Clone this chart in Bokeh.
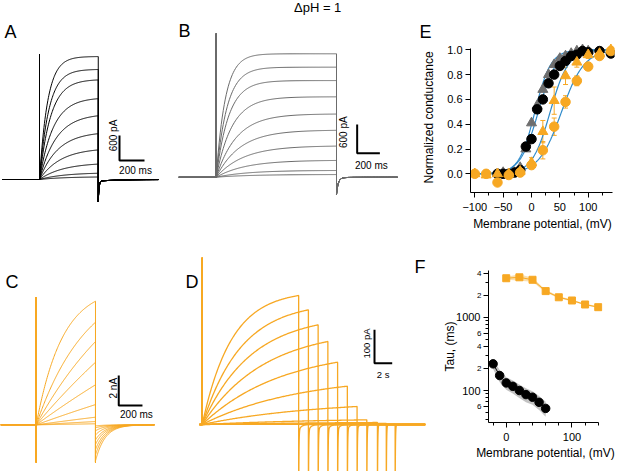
import numpy as np
from bokeh.plotting import figure
from bokeh.models import (Range1d, FixedTicker, Label, Whisker, TeeHead, ColumnDataSource,
                          PrintfTickFormatter, BasicTickFormatter, LogAxis, Title)
from bokeh.layouts import row, column
from bokeh.embed import file_html
from bokeh.resources import INLINE

FONT = "Liberation Sans"
ORANGE = "#F7A823"
GRAY = "#6B6B6B"
BLUE = "#2F8BCB"

# ---------------- data ----------------
# Panel A : black current family (pA, ms)
A_end_pA = [2950, 2640, 2390, 1940, 1530, 1100, 710, 370, 150, 60]
A_tau_ms = [65, 75, 90, 110, 135, 150, 170, 190, 200, 200]
A_pulse_ms = 470
A_cap_pA = 3000
A_tail_pA = -500

# Panel B : grey current family, ΔpH = 1 (pA, ms)
B_end_pA = [2580, 2300, 2020, 1680, 1320, 980, 650, 350, 140, 55]
B_tau_ms = [80, 95, 110, 140, 180, 210, 240, 260, 280, 300]
B_pulse_ms = 1060
B_cap_pA = 3000
B_tail_pA = -340

# Panel C : orange current family (nA, ms)
C_end_nA = [8.24, 6.84, 5.55, 4.17, 2.67, 1.35, 0.51, 0.22, 0.07]
C_tau_ms = [220, 430, 870, 2000, 3000, 4000, 4000, 4000, 4000]
C_tail_nA = [-2.4, -2.0, -1.65, -1.3, -1.0, -0.67, -0.4, -0.2, -0.07]
C_pulse_ms = 500
C_cap_up_nA = 8.5
C_cap_dn_nA = -2.5

# Panel D : long pulses (pA, s)
D_end_pA = [387, 344, 299, 249, 187, 115, 54, 14, 6, 3, 1]
D_pulse_s = [10.9, 12.0, 13.1, 14.2, 15.3, 16.4, 17.5, 18.6, 19.8, 20.8, 21.8]
D_tau_s = [3.3, 4.4, 5.5, 7, 9, 11, 13, 15, 15, 15, 15]
D_tail_slow_pA = [-18, -18, -16, -15, -14, -12, -8, -4, -2, -1, -1]
D_cap_pA = 500
D_tail_spike_pA = -250

# Panel E : normalized conductance vs membrane potential (mV)
E_black_V = [-60, -50, -40, -30, -20, -10, 0, 10, 20, 30, 40, 50, 60, 70, 80, 90, 100, 120, 140]
E_black_G = [0.0, 0.0, 0.0, 0.01, 0.03, 0.22, 0.28, 0.52, 0.60, 0.73, 0.80, 0.87, 0.91, 0.95, 0.96, 0.99, 0.98, 0.99, 0.97]
E_black_err = [0.01, 0.01, 0.01, 0.01, 0.02, 0.03, 0.03, 0.03, 0.02, 0.02, 0.02, 0.02, 0.01, 0.01, 0.01, 0.01, 0.01, 0.01, 0.01]
E_gray_V = [-60, -50, -40, -30, -20, -10, 0, 10, 20, 30, 40, 50, 60, 70, 80, 90, 100]
E_gray_G = [0.0, 0.01, 0.0, 0.01, 0.05, 0.2, 0.41, 0.55, 0.68, 0.80, 0.88, 0.93, 0.95, 0.97, 0.99, 1.0, 0.99]
E_otri_V = [-100, -80, -60, -40, -20, 0, 20, 40, 60, 80, 100, 120, 140]
E_otri_G = [0.0, -0.01, 0.0, 0.0, 0.02, 0.09, 0.34, 0.59, 0.79, 0.90, 0.96, 0.97, 1.0]
E_otri_err = [0.01, 0.02, 0.01, 0.01, 0.02, 0.04, 0.09, 0.11, 0.07, 0.04, 0.03, 0.02, 0.02]
E_ocirc_V = [-100, -80, -60, -40, -20, 0, 20, 40, 60, 80, 100, 120, 140]
E_ocirc_G = [0.0, 0.0, -0.07, -0.01, 0.01, 0.07, 0.19, 0.38, 0.58, 0.75, 0.865, 0.95, 0.99]
E_ocirc_err = [0.01, 0.01, 0.02, 0.01, 0.01, 0.03, 0.07, 0.07, 0.05, 0.04, 0.03, 0.02, 0.02]
# Boltzmann fits (V1/2 mV, slope mV)
E_fit_vhalf = [12, 6, 33, 53]
E_fit_slope = [16, 14, 16, 20]
E_x_ticks = [-100, -50, 0, 50, 100]
E_y_ticks = [0.0, 0.2, 0.4, 0.6, 0.8, 1.0]

# Panel F : time constants (ms) vs membrane potential (mV)
F_orange_V = [0, 20, 40, 60, 80, 100, 120, 140]
F_orange_tau = [3400, 3500, 3240, 2270, 1870, 1690, 1490, 1370]
F_orange_sem = [150, 350, 200, 100, 60, 50, 40, 40]
F_black_V = [-20, -10, 0, 10, 20, 30, 40, 50, 60]
F_black_tau = [231, 160, 127, 114, 100, 88, 81, 69, 57]
F_black_sem = [35, 30, 25, 23, 21, 19, 17, 15, 13]
F_y_big = [100, 1000]
F_y_small = [60, 200, 400, 600, 2000, 4000]
F_y_small_labels = ["6", "2", "4", "6", "2", "4"]
F_y_minor = [40, 50, 70, 80, 90, 300, 500, 700, 800, 900, 3000]
F_x_ticks = [0, 100]


# ---------------- helpers ----------------
def trace_fig(w, h, xr, yr):
    p = figure(width=w, height=h, x_range=Range1d(*xr), y_range=Range1d(*yr),
               output_backend="svg", toolbar_location=None, min_border=0,
               x_axis_location=None, y_axis_location=None, title=None)
    p.grid.grid_line_color = None
    p.outline_line_color = None
    p.frame_align = False
    return p


def label(p, x, y, text, size="10px", align="center", baseline="middle", angle=0, color="black"):
    p.add_layout(Label(x=x, y=y, text=text, text_font=FONT, text_font_size=size,
                       text_align=align, text_baseline=baseline, angle=angle,
                       angle_units="deg", text_color=color))


def step_trace(t_pre, T, I_end, tau, cap_up, cap_dn, tail_t, tail_I, t_post, n=120):
    t = np.linspace(0, T, n)
    rise = I_end * (1 - np.exp(-t / tau)) / (1 - np.exp(-T / tau))
    xs = [t_pre, 0, 0, 0, 0] + list(t) + list(T + np.asarray(tail_t)) + [t_post]
    ys = [0, 0, cap_up, cap_dn, 0] + list(rise) + list(tail_I) + [0]
    return xs, ys


def scalebar(p, x0, y0, dx, dy, w=2):
    p.line([x0, x0, x0 + dx], [y0 + dy, y0, y0], line_color="black", line_width=w)


def style_axes(p):
    p.grid.grid_line_color = None
    p.outline_line_color = None
    p.frame_align = False
    for ax in p.xaxis + p.yaxis:
        ax.axis_line_color = "black"
        ax.major_tick_line_color = "black"
        ax.minor_tick_line_color = "black"
        ax.major_tick_in = 0
        ax.minor_tick_in = 0
        ax.major_tick_out = 5
        ax.minor_tick_out = 3
        ax.major_label_standoff = 3
        ax.major_label_text_font = FONT
        ax.major_label_text_font_size = "11px"
        ax.major_label_text_color = "black"
        ax.axis_label_text_font = FONT
        ax.axis_label_text_font_size = "12px"
        ax.axis_label_text_font_style = "normal"
        ax.axis_label_text_color = "black"


# ---------------- Panel A ----------------
pA = trace_fig(170, 253, (-312, 1048), (-1776, 4296))
tt = 480 * np.linspace(0, 1, 90) ** 3
xsA, ysA = [], []
for Ie, tau in zip(A_end_pA, A_tau_ms):
    tail = A_tail_pA * np.exp(-tt / 6) - 40 * np.exp(-tt / 150)
    x, y = step_trace(-296, A_pulse_ms, Ie, tau, A_cap_pA, 0, tt, tail, 952)
    xsA.append(x); ysA.append(y)
pA.multi_line(xsA, ysA, line_color="black", line_width=1.0)
scalebar(pA, 640, 456, 200, 600)
label(pA, 592, 1056, "600 pA", angle=90)
label(pA, 768, 216, "200 ms")
label(pA, -280, 3552, "A", size="18px", align="left")

# ---------------- Panel B ----------------
pB = trace_fig(245, 253, (-402.6, 1756), (-1595, 3694))
tt = 500 * np.linspace(0, 1, 90) ** 3
xsB, ysB = [], []
for Ie, tau in zip(B_end_pA, B_tau_ms):
    tail = B_tail_pA * np.exp(-tt / 15) - 15 * np.exp(-tt / 100)
    x, y = step_trace(-330, B_pulse_ms, Ie, tau, B_cap_pA, 0, tt, tail, 1598)
    xsB.append(x); ysB.append(y)
pB.multi_line(xsB, ysB, line_color=GRAY, line_width=1.0)
scalebar(pB, 1242, 502, 200, 600)
label(pB, 1124, 941, "600 pA", angle=90)
label(pB, 1367, 245, "200 ms")
label(pB, -332, 3046, "B", size="18px", align="left")
label(pB, 894, 3538, "ΔpH = 1", size="13px")

# ---------------- Panel E ----------------
pE = figure(width=202, height=253, x_range=Range1d(-107.6, 146.4), y_range=Range1d(-0.1508, 1.0589),
            output_backend="svg", toolbar_location=None, title=None,
            min_border_left=55, min_border_right=3, min_border_top=42, min_border_bottom=61)
vv = np.linspace(-100, 140, 200)
for vh, k in zip(E_fit_vhalf, E_fit_slope):
    pE.line(vv, 1 / (1 + np.exp((vh - vv) / k)), line_color=BLUE, line_width=1.2)
for V, G, err, col in [(E_black_V, E_black_G, E_black_err, "black"),
                       (E_otri_V, E_otri_G, E_otri_err, ORANGE),
                       (E_ocirc_V, E_ocirc_G, E_ocirc_err, ORANGE)]:
    src = ColumnDataSource(dict(x=V, lo=[g - e for g, e in zip(G, err)], hi=[g + e for g, e in zip(G, err)]))
    pE.add_layout(Whisker(base="x", lower="lo", upper="hi", source=src, line_color=col, line_width=1,
                          upper_head=TeeHead(size=5, line_color=col, line_width=1),
                          lower_head=TeeHead(size=5, line_color=col, line_width=1)))
pE.scatter(E_gray_V, E_gray_G, marker="triangle", size=10, color="#6E6E6E")
pE.scatter(E_black_V, E_black_G, marker="circle", size=9.5, color="black")
pE.scatter(E_otri_V, E_otri_G, marker="triangle", size=10, color=ORANGE)
pE.scatter(E_ocirc_V, E_ocirc_G, marker="circle", size=9.5, color=ORANGE)
style_axes(pE)
pE.xaxis.ticker = FixedTicker(ticks=E_x_ticks, minor_ticks=[-75, -25, 25, 75, 125])
pE.yaxis.ticker = FixedTicker(ticks=E_y_ticks, minor_ticks=[])
pE.yaxis.formatter = PrintfTickFormatter(format="%.1f")
pE.xaxis.bounds = (-107.6, 142.4)
pE.yaxis.bounds = (-0.1508, 1.01)
pE.xaxis.axis_label = "Membrane potential, (mV)"
pE.yaxis.axis_label = "Normalized conductance"
pE.yaxis.axis_label_standoff = 8
pE.xaxis.major_label_standoff = 5
pE.xaxis.axis_label_standoff = 3
pE.add_layout(Title(text="E", align="left", offset=-51, text_font=FONT, text_font_size="18px",
                    text_font_style="normal", text_color="black", standoff=1), "above")

# ---------------- Panel C ----------------
pC = trace_fig(180, 218, (-301, 1216.7), (-3.11, 11.42))
tt = 480 * np.linspace(0, 1, 90) ** 2
xsC, ysC = [], []
for Ie, tau, At in zip(C_end_nA, C_tau_ms, C_tail_nA):
    tail = At * np.exp(-tt / 80)
    x, y = step_trace(-301, C_pulse_ms, Ie, tau, C_cap_up_nA, C_cap_dn_nA,
                      np.concatenate([[0], tt]), np.concatenate([[C_cap_dn_nA], tail]), 997)
    xsC.append(x); ysC.append(y)
pC.multi_line(xsC, ysC, line_color=ORANGE, line_width=1.0)
scalebar(pC, 696, 1.29, 200, 2)
label(pC, 655, 2.44, "2 nA", angle=90)
label(pC, 845, 0.69, "200 ms")
label(pC, -259, 9.55, "C", size="18px", align="left")

# ---------------- Panel D ----------------
pD = trace_fig(246, 218, (-2.452, 25.345), (-141, 513))
tt = 3.0 * np.linspace(0, 1, 90) ** 3
xsD, ysD = [], []
for Ie, T, tau, As in zip(D_end_pA, D_pulse_s, D_tau_s, D_tail_slow_pA):
    tail = D_tail_spike_pA * np.exp(-tt / 0.03) + As * np.exp(-tt / 0.3)
    x, y = step_trace(-0.3, T, Ie, tau, D_cap_pA, 0, tt, tail, 25.2, n=160)
    xsD.append(x); ysD.append(y)
pD.multi_line(xsD, ysD, line_color=ORANGE, line_width=1.3)
scalebar(pD, 19.47, 184, 2, 100)
label(pD, 18.53, 243, "100 pA", size="9.5px", angle=90)
label(pD, 20.45, 150, "2 s", size="9.5px")
label(pD, -1.89, 429, "D", size="18px", align="left")
label(pD, 23.99, 474, "F", size="18px", align="left")

# ---------------- Panel F ----------------
pF = figure(width=191, height=218, x_range=Range1d(-27, 146.5), y_range=Range1d(36.6, 4335),
            y_axis_type="log", output_backend="svg", toolbar_location=None, title=None,
            min_border_left=62, min_border_right=15, min_border_top=17, min_border_bottom=49)
pF.varea(x=F_black_V, y1=[t - s for t, s in zip(F_black_tau, F_black_sem)],
         y2=[t + s for t, s in zip(F_black_tau, F_black_sem)], fill_color="#B8B8B8", fill_alpha=0.85)
pF.varea(x=F_orange_V, y1=[t - s for t, s in zip(F_orange_tau, F_orange_sem)],
         y2=[t + s for t, s in zip(F_orange_tau, F_orange_sem)], fill_color="#F9D9A0", fill_alpha=0.85)
pF.line(F_black_V, F_black_tau, line_color="black", line_width=1)
pF.scatter(F_black_V, F_black_tau, marker="circle", size=8.5, color="black")
pF.line(F_orange_V, F_orange_tau, line_color=ORANGE, line_width=1)
pF.scatter(F_orange_V, F_orange_tau, marker="square", size=7, color=ORANGE)
outer = LogAxis(ticker=FixedTicker(ticks=F_y_big, minor_ticks=[]), formatter=BasicTickFormatter())
pF.add_layout(outer, "left")
style_axes(pF)
inner = pF.yaxis[0]
inner.ticker = FixedTicker(ticks=F_y_small + F_y_big, minor_ticks=F_y_minor)
ovr = {v: t for v, t in zip(F_y_small, F_y_small_labels)}
ovr.update({v: "" for v in F_y_big})
inner.major_label_overrides = ovr
inner.major_label_text_font_size = "8px"
inner.major_label_standoff = 2
outer.axis_line_color = None
outer.major_tick_out = 0
outer.minor_tick_out = 0
outer.major_label_standoff = -6
outer.axis_label = "Tau, (ms)"
outer.axis_label_standoff = -4
pF.xaxis.ticker = FixedTicker(ticks=F_x_ticks, minor_ticks=[-20, 20, 40, 60, 80, 120, 140])
pF.xaxis.formatter = BasicTickFormatter()
pF.xaxis.bounds = (-27, 140.5)
pF.xaxis.axis_label = "Membrane potential, (mV)"
pF.xaxis.major_label_standoff = 5
pF.xaxis.axis_label_standoff = 2

layout = column(row(pA, pB, pE), row(pC, pD, pF))
open("out.html", "w").write(file_html(layout, INLINE))
